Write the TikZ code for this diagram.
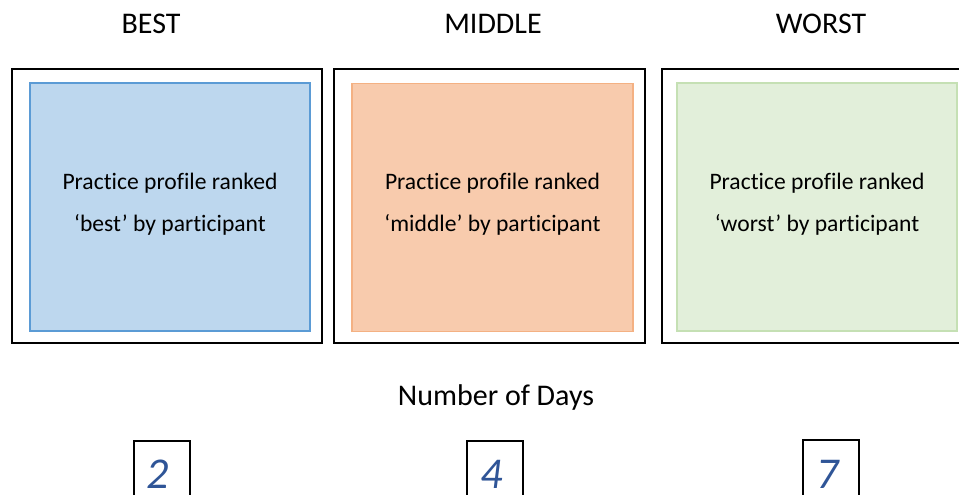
\documentclass[tikz,border=0pt]{standalone}
\usepackage{fontspec}
\setmainfont{Carlito}[Ligatures=NoCommon]
\usetikzlibrary{positioning}
\definecolor{bestfill}{RGB}{189,215,238}
\definecolor{bestline}{RGB}{91,155,213}
\definecolor{middlefill}{RGB}{248,203,173}
\definecolor{middleline}{RGB}{244,177,131}
\definecolor{worstfill}{RGB}{226,239,218}
\definecolor{worstline}{RGB}{197,224,180}
\definecolor{numblue}{RGB}{47,85,151}
\tikzstyle{frame}=[draw=black, line width=2pt, minimum width=310pt, minimum height=274pt, inner sep=0pt]
\tikzstyle{profile}=[line width=1.5pt, minimum width=280pt, minimum height=248pt]
\tikzstyle{profiletext}=[align=center, yshift=3pt, font=\fontsize{23.6}{42}\selectfont]
\tikzstyle{rank}=[anchor=base, font=\fontsize{30}{36}\selectfont]
\tikzstyle{daybox}=[draw=black, line width=2pt, minimum width=56pt, minimum height=66pt, anchor=north]
\tikzstyle{daynum}=[anchor=base, inner sep=0pt, text=numblue, font=\fontsize{44}{50}\selectfont\itshape]

\begin{document}
\begin{tikzpicture}[x=1pt, y=-1pt]
    \useasboundingbox (0,0) rectangle (959,495);
    \clip (0,0) rectangle (959,495);

    % rank headings
    \node[rank] (bestlabel)   at (151,34) {BEST};
    \node[rank] (middlelabel) at (493,34) {MIDDLE};
    \node[rank] (worstlabel)  at (821,34) {WORST};

    % profile cards
    \node[frame] (best)   at (167,206)   {};
    \node[frame, minimum width=311pt] (middle) at (489.5,206) {};
    \node[frame] (worst)  at (817,206)   {};

    \node[profile, fill=bestfill, draw=bestline] (bestcard) at (170,207) {};
    \node[profile, fill=middlefill, draw=middleline, minimum width=281pt] (middlecard) at (492.5,207.5) {};
    \node[profile, fill=worstfill, draw=worstline] (worstcard) at (817,207) {};

    \node[profiletext] (besttext)   at (bestcard)   {Practice profile ranked\\‘best’ by participant};
    \node[profiletext] (middletext) at (middlecard) {Practice profile ranked\\‘middle’ by participant};
    \node[profiletext] (worsttext)  at (worstcard)  {Practice profile ranked\\‘worst’ by participant};

    % days
    \node[rank] (days) at (496,405) {Number of Days};

    \node[daybox] (daytwo)   at (162,440)   {};
    \node[daybox] (dayfour)  at (494.5,440) {};
    \node[daybox] (dayseven) at (830.5,439) {};

    \node[daynum] (two)   at (158,488) {2};
    \node[daynum] (four)  at (492,488) {4};
    \node[daynum] (seven) at (828,488) {7};

\end{tikzpicture}
\end{document}
